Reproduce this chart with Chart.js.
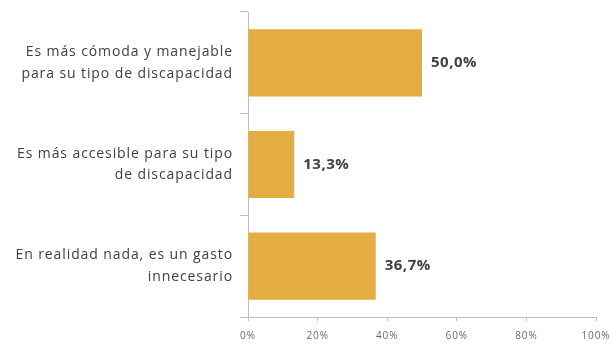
<!DOCTYPE html>
<html>
<head>
<meta charset="utf-8">
<script src="https://cdn.jsdelivr.net/npm/chart.js@4/dist/chart.umd.min.js"></script>
<style>
  html, body { margin: 0; padding: 0; background: #fff; }
  #wrap { width: 610px; height: 345px; }
</style>
</head>
<body>
<div id="wrap"><canvas id="myChart" width="610" height="345"></canvas></div>
<script>
var categories = [
    ['Es más cómoda y manejable', 'para su tipo de discapacidad'],
    ['Es más accesible para su tipo', 'de discapacidad'],
    ['En realidad nada, es un gasto', 'innecesario']
];
var values = [50.0, 13.3, 36.7];
var tickValues = [0, 20, 40, 60, 80, 100];

// wider letter spacing, closer to the original rendering
var spacing = {
    id: 'spacing',
    beforeLayout: function(chart) { chart.ctx.letterSpacing = '0.9px'; },
    beforeDraw: function(chart) { chart.ctx.letterSpacing = '0.9px'; }
};

// value labels to the right of each bar
var barLabels = {
    id: 'barLabels',
    afterDatasetsDraw: function(chart) {
        var ctx = chart.ctx;
        var meta = chart.getDatasetMeta(0);
        ctx.save();
        ctx.letterSpacing = '0.5px';
        ctx.font = 'bold 15px "Open Sans"';
        ctx.fillStyle = '#404040';
        ctx.textAlign = 'left';
        ctx.textBaseline = 'middle';
        meta.data.forEach(function(bar, i) {
            ctx.fillText(values[i].toFixed(1).replace('.', ',') + '%', bar.x + 9, bar.y);
        });
        ctx.restore();
    }
};

var ctx = document.getElementById('myChart').getContext('2d');
var myChart = new Chart(ctx, {
    type: 'bar',
    data: {
        labels: categories,
        datasets: [{
            data: values,
            backgroundColor: '#E3AD42',
            borderWidth: 0,
            categoryPercentage: 0.66,
            barPercentage: 1.0
        }]
    },
    options: {
        indexAxis: 'y',
        responsive: false,
        animation: false,
        layout: { padding: { left: 0, right: 14, top: 12, bottom: 0 } },
        plugins: {
            legend: { display: false },
            tooltip: { enabled: false }
        },
        scales: {
            x: {
                min: 0,
                max: 100,
                afterBuildTicks: function(axis) {
                    axis.ticks = tickValues.map(function(v) { return { value: v }; });
                },
                afterFit: function(axis) {
                    axis.height = 28;
                    axis.paddingLeft = 0;
                    axis.paddingRight = 0;
                },
                grid: {
                    drawOnChartArea: false,
                    drawTicks: true,
                    tickLength: 4,
                    color: '#BFBFBF'
                },
                border: { color: '#BFBFBF' },
                ticks: {
                    padding: 9,
                    maxRotation: 0,
                    color: '#6B6B6B',
                    font: { family: '"Open Sans"', size: 10 },
                    callback: function(v) { return v + '%'; }
                }
            },
            y: {
                afterFit: function(axis) {
                    axis.width = 248;
                    axis.paddingTop = 0;
                    axis.paddingBottom = 0;
                },
                grid: {
                    offset: true,
                    drawOnChartArea: false,
                    drawTicks: true,
                    tickLength: 8,
                    color: '#BFBFBF'
                },
                border: { color: '#BFBFBF' },
                ticks: {
                    padding: 7,
                    color: '#404040',
                    font: { family: '"Open Sans"', size: 14, lineHeight: 1.55 }
                }
            }
        }
    },
    plugins: [spacing, barLabels]
});
</script>
</body>
</html>
